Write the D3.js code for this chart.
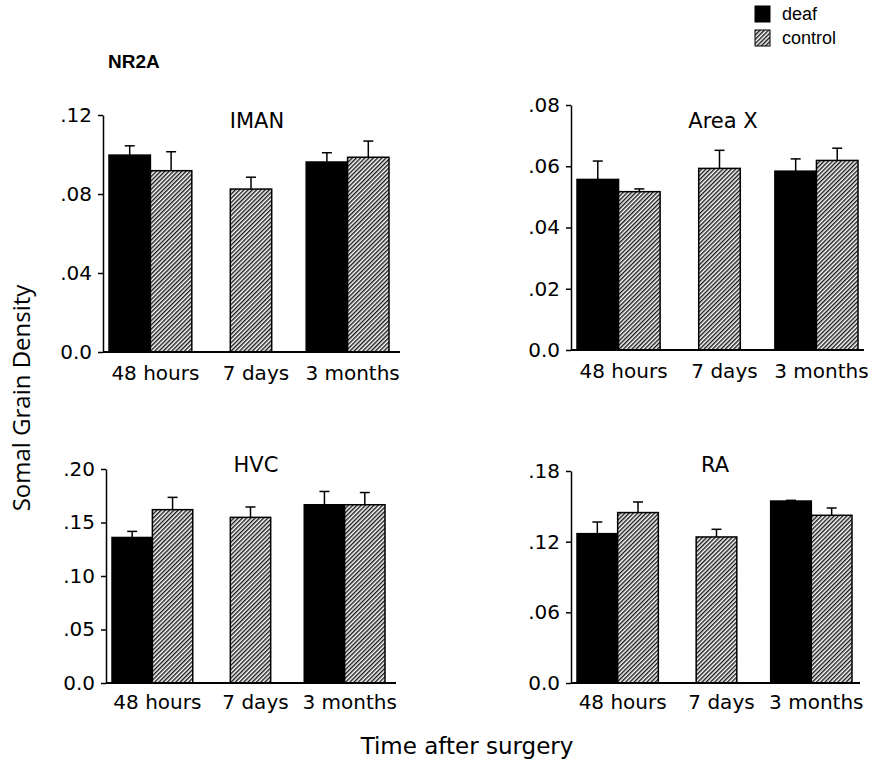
<!DOCTYPE html>
<html>
<head>
<meta charset="utf-8">
<script src="https://cdn.jsdelivr.net/npm/d3@7"></script>
<style>
  body { margin: 0; background: #fff; }
  svg text { fill: #000; }
</style>
</head>
<body>
<svg id="chart" width="875" height="760"></svg>
<script>
// data
var regions = ["IMAN", "Area X", "HVC", "RA"];
var times = ["48 hours", "7 days", "3 months"];

var deafMean = [
    [0.0997, null, 0.0962],
    [0.0557, null, 0.0584],
    [0.136, null, 0.1666],
    [0.1268, null, 0.1545]
];
var deafErr = [
    [0.0047, null, 0.0047],
    [0.006, null, 0.004],
    [0.0057, null, 0.0124],
    [0.0099, null, 0.0006]
];
var controlMean = [
    [0.0918, 0.0825, 0.0986],
    [0.0517, 0.0593, 0.0619],
    [0.162, 0.1548, 0.1666],
    [0.1447, 0.124, 0.1424]
];
var controlErr = [
    [0.0096, 0.006, 0.0082],
    [0.0009, 0.0059, 0.004],
    [0.0115, 0.0097, 0.0114],
    [0.009, 0.0065, 0.0062]
];
var yMax = [0.12, 0.08, 0.20, 0.18];
var tickValues = [
    [0, 0.04, 0.08, 0.12],
    [0, 0.02, 0.04, 0.06, 0.08],
    [0, 0.05, 0.10, 0.15, 0.20],
    [0, 0.06, 0.12, 0.18]
];
var tickLabels = [
    ["0.0", ".04", ".08", ".12"],
    ["0.0", ".02", ".04", ".06", ".08"],
    ["0.0", ".05", ".10", ".15", ".20"],
    ["0.0", ".06", ".12", ".18"]
];

// where each panel sits on the page
var layout = [
    {ax: 103, y0: 352, yTop: 115, bx0: 109, bx1: 389, end: 400, tx: 257, ty: 128, lx: 28},
    {ax: 571, y0: 350, yTop: 105, bx0: 577, bx1: 858, end: 864, tx: 723, ty: 128, lx: 28},
    {ax: 106, y0: 683, yTop: 469, bx0: 112, bx1: 385, end: 396, tx: 256, ty: 472, lx: 26},
    {ax: 571, y0: 683, yTop: 471, bx0: 577, bx1: 852, end: 860, tx: 715, ty: 472, lx: 26}
];

var FONT = "'DejaVu Sans', Verdana, sans-serif";
var svg = d3.select("#chart");

var defs = svg.append("defs");
var pat = defs.append("pattern")
    .attr("id", "hatch")
    .attr("patternUnits", "userSpaceOnUse")
    .attr("width", 3)
    .attr("height", 3)
    .attr("patternTransform", "rotate(45)");
pat.append("rect").attr("width", 3).attr("height", 3).attr("fill", "#fff");
pat.append("line")
    .attr("x1", 0.75).attr("y1", 0).attr("x2", 0.75).attr("y2", 3)
    .attr("stroke", "#000").attr("stroke-width", 1.3);

function drawPanel(p) {
    var L = layout[p];
    var g = svg.append("g");

    var y = d3.scaleLinear().domain([0, yMax[p]]).range([L.y0, L.yTop]);
    var x = d3.scaleBand().domain(times).range([L.bx0, L.bx1]).paddingInner(0.16).paddingOuter(0);
    var half = x.bandwidth() / 2;

    var bars = [];
    for (var i = 0; i < times.length; ++i) {
        var x0 = x(times[i]);
        if (deafMean[p][i] != null) {
            bars.push({x: x0, v: deafMean[p][i], e: deafErr[p][i], fill: "#000"});
            bars.push({x: x0 + half, v: controlMean[p][i], e: controlErr[p][i], fill: "url(#hatch)"});
        } else {
            bars.push({x: x0 + half / 2 + 2, v: controlMean[p][i], e: controlErr[p][i], fill: "url(#hatch)"});
        }
    }

    // error bars (upper only) go under the bar outline
    var eb = g.selectAll(".err").data(bars).enter().append("g").attr("class", "err")
        .attr("stroke", "#000").attr("stroke-width", 1.5);
    eb.append("line")
        .attr("x1", function(d) { return d.x + half / 2; })
        .attr("x2", function(d) { return d.x + half / 2; })
        .attr("y1", function(d) { return y(d.v); })
        .attr("y2", function(d) { return y(d.v + d.e); });
    eb.append("line")
        .attr("x1", function(d) { return d.x + half / 2 - 5; })
        .attr("x2", function(d) { return d.x + half / 2 + 5; })
        .attr("y1", function(d) { return y(d.v + d.e); })
        .attr("y2", function(d) { return y(d.v + d.e); });

    g.selectAll(".bar").data(bars).enter().append("rect")
        .attr("class", "bar")
        .attr("x", function(d) { return d.x; })
        .attr("width", half)
        .attr("y", function(d) { return y(d.v); })
        .attr("height", function(d) { return L.y0 - y(d.v); })
        .attr("fill", function(d) { return d.fill; })
        .attr("stroke", "#000")
        .attr("stroke-width", 1.5);

    // y axis
    var yAxis = d3.axisLeft(y)
        .tickValues(tickValues[p])
        .tickFormat(function(d, i) { return tickLabels[p][i]; })
        .tickSize(5)
        .tickSizeOuter(0)
        .tickPadding(6);
    var ya = g.append("g").attr("transform", "translate(" + L.ax + ",0)").call(yAxis);
    ya.selectAll("path, line").attr("stroke", "#000").attr("stroke-width", 1.5);
    ya.selectAll("text").attr("font-family", FONT).attr("font-size", 20).attr("fill", "#000");

    // x baseline
    g.append("line")
        .attr("x1", L.ax).attr("x2", L.end)
        .attr("y1", L.y0).attr("y2", L.y0)
        .attr("stroke", "#000").attr("stroke-width", 2);

    g.selectAll(".xl").data(times).enter().append("text")
        .attr("class", "xl")
        .attr("x", function(d, i) { return x(d) + x.bandwidth() / 2 + (i == 1 ? 7 : 5); })
        .attr("y", L.y0 + L.lx)
        .attr("text-anchor", "middle")
        .attr("font-family", FONT)
        .attr("font-size", 20)
        .text(function(d) { return d; });

    g.append("text")
        .attr("x", L.tx).attr("y", L.ty)
        .attr("text-anchor", "middle")
        .attr("font-family", FONT)
        .attr("font-size", 21)
        .text(regions[p]);
}

for (var p = 0; p < regions.length; ++p) drawPanel(p);

// headings and axis titles
svg.append("text")
    .attr("x", 108).attr("y", 68)
    .attr("font-family", "'Liberation Sans', Arial, sans-serif")
    .attr("font-weight", "bold")
    .attr("font-size", 19)
    .text("NR2A");

svg.append("text")
    .attr("x", 467).attr("y", 754)
    .attr("text-anchor", "middle")
    .attr("font-family", FONT)
    .attr("font-size", 23)
    .text("Time after surgery");

svg.append("text")
    .attr("transform", "translate(30,398) rotate(-90)")
    .attr("text-anchor", "middle")
    .attr("font-family", "'Open Sans', sans-serif")
    .attr("font-size", 24)
    .text("Somal Grain Density");

// legend
var series = ["deaf", "control"];
var legendFill = ["#000", "url(#hatch)"];
var lg = svg.append("g").attr("transform", "translate(755,6)");
var item = lg.selectAll("g").data(series).enter().append("g")
    .attr("transform", function(d, i) { return "translate(0," + i * 24 + ")"; });
item.append("rect")
    .attr("width", 15).attr("height", 16)
    .attr("fill", function(d, i) { return legendFill[i]; })
    .attr("stroke", "#000").attr("stroke-width", 1);
item.append("text")
    .attr("x", 27).attr("y", 14)
    .attr("font-family", "'Liberation Sans', Arial, sans-serif")
    .attr("font-size", 18)
    .text(function(d) { return d; });
</script>
</body>
</html>
